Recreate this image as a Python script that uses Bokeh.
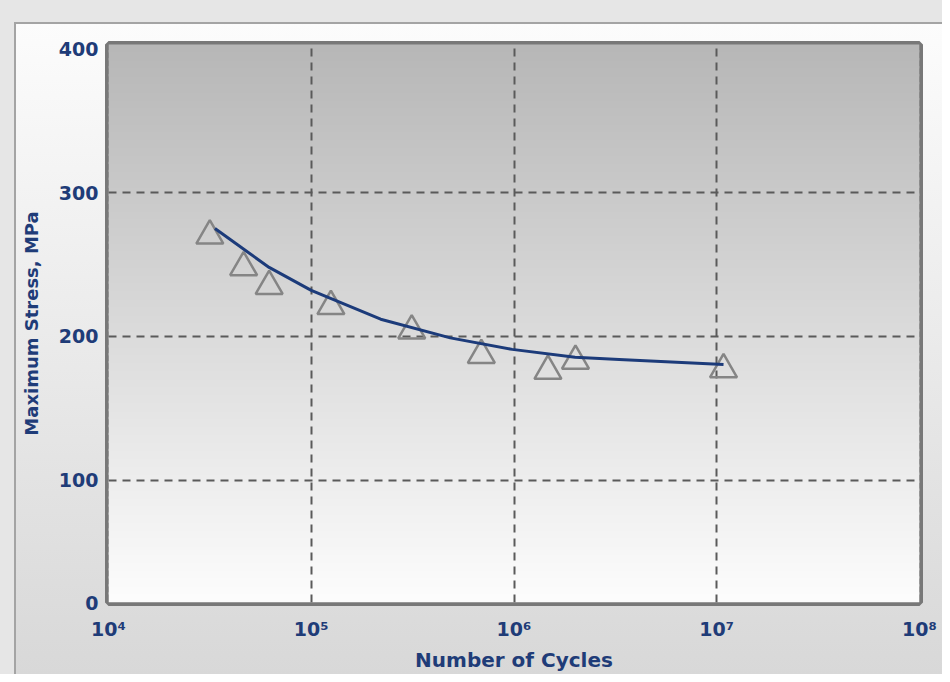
import numpy as np
from bokeh.plotting import figure
from bokeh.models import FixedTicker, Range1d
from bokeh.embed import file_html
from bokeh.resources import INLINE

# ---- data ----
cycles = [3.16e4, 4.64e4, 6.2e4, 1.25e5, 3.13e5, 6.9e5, 1.47e6, 2.01e6, 1.08e7]
max_stress = [270, 248, 235, 221, 204, 187, 176, 183, 177]
fit_cycles = [3.35e4, 6.2e4, 1.0e5, 2.2e5, 4.85e5, 9.8e5, 2.0e6, 3.3e6, 1.08e7]
fit_stress = [275, 248, 232, 212, 199, 191, 185.5, 184, 180.5]
x_tick_values = [1e4, 1e5, 1e6, 1e7, 1e8]
x_tick_labels = ["10⁴", "10⁵", "10⁶", "10⁷", "10⁸"]
y_tick_values = [15, 100, 200, 300, 400]
y_tick_labels = ["0", "100", "200", "300", "400"]

W, H = 942, 674
Y0, Y1 = 15, 403
X0, X1 = 1e4, 1e8

p = figure(width=W, height=H, x_axis_type="log",
           x_range=Range1d(X0, X1), y_range=Range1d(Y0, Y1),
           output_backend="svg", toolbar_location=None,
           min_border_left=108, min_border_right=23,
           min_border_top=44, min_border_bottom=69)

# page/panel background via CSS, canvas transparent
p.border_fill_color = None
p.background_fill_color = "#fcfcfc"
p.styles = {
    "background": (
        "linear-gradient(#fcfcfc, #d8d8d8) 16px 24px / calc(100% - 16px) calc(100% - 24px) no-repeat, "
        "linear-gradient(#a4a4a4, #a4a4a4) 14px 22px / calc(100% - 14px) calc(100% - 22px) no-repeat, "
        "#e6e6e6"
    )
}

# plot-area vertical gradient (dark top -> light bottom)
n = 70
edges = np.linspace(Y0, Y1, n + 1)
step = edges[1] - edges[0]
cols = []
for i in range(n):
    t = (i + 0.5) / n
    c = int(round(252 - t * (252 - 183)))
    cols.append("#%02x%02x%02x" % (c, c, c))
p.quad(left=X0, right=X1, bottom=edges[:-1], top=edges[1:] + step * 0.3,
       fill_color=cols, line_color=None, level="image")

p.outline_line_color = "#787878"
p.outline_line_width = 7

# grids
p.xgrid.ticker = FixedTicker(ticks=x_tick_values[1:4])
p.ygrid.ticker = FixedTicker(ticks=y_tick_values[1:4])
for g in (p.xgrid[0], p.ygrid[0]):
    g.grid_line_color = "#5a5a5a"
    g.grid_line_width = 2
    g.grid_line_dash = "8 6"

# axes
p.xaxis.ticker = FixedTicker(ticks=x_tick_values)
p.xaxis.major_label_overrides = dict(zip(x_tick_values, x_tick_labels))
p.yaxis.ticker = FixedTicker(ticks=y_tick_values)
p.yaxis.major_label_overrides = dict(zip(y_tick_values, y_tick_labels))
navy = "#1f3c78"
for ax in (p.xaxis[0], p.yaxis[0]):
    ax.axis_line_color = None
    ax.major_tick_line_color = None
    ax.minor_tick_line_color = None
    ax.major_tick_in = 0
    ax.major_tick_out = 0
    ax.major_label_text_font = "DejaVu Sans"
    ax.major_label_text_font_style = "bold"
    ax.major_label_text_color = navy
    ax.axis_label_text_font = "DejaVu Sans"
    ax.axis_label_text_font_style = "bold"
    ax.axis_label_text_color = navy

p.xaxis.axis_label = "Number of Cycles"
p.xaxis.major_label_text_font_size = "19px"
p.xaxis.axis_label_text_font_size = "20px"
p.xaxis.major_label_standoff = 15
p.xaxis.axis_label_standoff = 5

p.yaxis.axis_label = "Maximum Stress, MPa"
p.yaxis.major_label_text_font_size = "19px"
p.yaxis.axis_label_text_font_size = "18px"
p.yaxis.major_label_standoff = 10
p.yaxis.axis_label_standoff = 14

# data
p.scatter(cycles, max_stress, marker="triangle", size=27,
          fill_color=None, line_color="#858585", line_width=2.5)
p.line(fit_cycles, fit_stress, line_color="#1c3b7a", line_width=3)

open("out.html", "w").write(file_html(p, INLINE))
